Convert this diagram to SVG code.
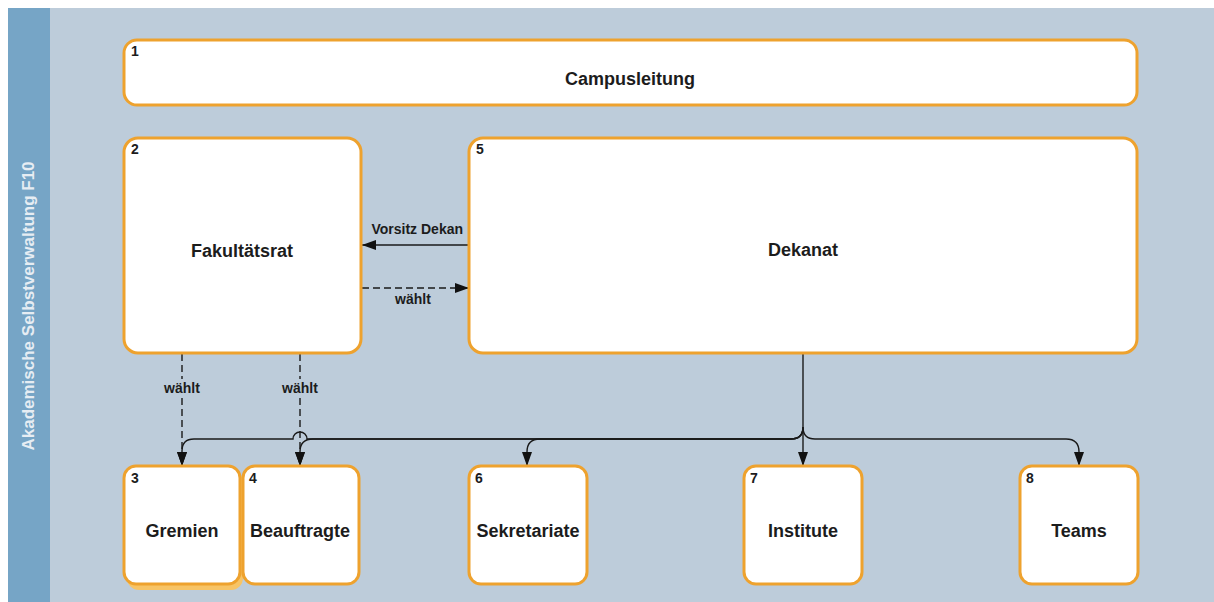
<svg xmlns="http://www.w3.org/2000/svg" width="1214" height="602" viewBox="0 0 1214 602">
  <defs>
    <style>
      .box { fill: #ffffff; stroke: #eea22e; stroke-width: 3; }
      .title { font-family: "Liberation Sans", Arial, sans-serif; font-weight: bold; font-size: 18px; fill: #1c1c1c; text-anchor: middle; }
      .num { font-family: "Liberation Sans", Arial, sans-serif; font-weight: bold; font-size: 14px; fill: #1c1c1c; }
      .lbl { font-family: "Liberation Sans", Arial, sans-serif; font-weight: bold; font-size: 14px; fill: #1c1c1c; }
      .solid { fill: none; stroke: #1a1a1a; stroke-width: 1.4; }
      .dash { fill: none; stroke: #1a1a1a; stroke-width: 1.4; stroke-dasharray: 7 4; }
    </style>
    <marker id="arrow" markerUnits="userSpaceOnUse" markerWidth="14" markerHeight="10" refX="14" refY="5" orient="auto">
      <path d="M0,0 L14,5 L0,10 z" fill="#111111"/>
    </marker>
  </defs>

  <!-- background -->
  <rect x="0" y="0" width="1214" height="602" fill="#ffffff"/>
  <rect x="8" y="8" width="1206" height="594" fill="#bdccda"/>
  <rect x="8" y="8" width="42" height="594" fill="#76a5c6"/>
  <text transform="translate(34,306) rotate(-90)" text-anchor="middle" font-family="'Liberation Sans', Arial, sans-serif" font-weight="bold" font-size="17" fill="#e6edf3">Akademische Selbstverwaltung F10</text>

  <!-- connectors -->
  <g id="connectors">
    <!-- Dekanat -> Fakultätsrat -->
    <line class="solid" x1="469" y1="245" x2="362" y2="245" marker-end="url(#arrow)"/>
    <!-- Fakultätsrat -> Dekanat -->
    <line class="dash" x1="362" y1="288" x2="469" y2="288" marker-end="url(#arrow)"/>
    <!-- Fakultätsrat -> Gremien / Beauftragte -->
    <line class="dash" x1="182" y1="354" x2="182" y2="466" marker-end="url(#arrow)"/>
    <line class="dash" x1="300" y1="354" x2="300" y2="466" marker-end="url(#arrow)"/>
    <!-- Dekanat trunk and branches -->
    <line class="solid" x1="803" y1="354" x2="803" y2="466" marker-end="url(#arrow)"/>
    <path class="solid" d="M803,427 C803,435 799,439 791,439 L307,439 A7,7 0 0 0 293,439 L194,439 Q182,439 182,451 L182,466" marker-end="url(#arrow)"/>
    <path class="solid" d="M803,427 C803,435 799,439 791,439 L313,439 Q300,439 300,452 L300,466" marker-end="url(#arrow)"/>
    <path class="solid" d="M803,427 C803,435 799,439 791,439 L540,439 Q527,439 527,452 L527,466" marker-end="url(#arrow)"/>
    <path class="solid" d="M803,427 C803,435 807,439 815,439 L1066,439 Q1079,439 1079,452 L1079,466" marker-end="url(#arrow)"/>
    <!-- labels -->
    <text class="lbl" x="463" y="234" text-anchor="end">Vorsitz Dekan</text>
    <text class="lbl" x="413" y="304" text-anchor="middle">wählt</text>
    <rect x="160" y="379" width="44" height="18" fill="#bdccda"/>
    <text class="lbl" x="182" y="393" text-anchor="middle">wählt</text>
    <rect x="278" y="379" width="44" height="18" fill="#bdccda"/>
    <text class="lbl" x="300" y="393" text-anchor="middle">wählt</text>
  </g>

  <!-- nodes -->
  <g id="node1">
    <rect class="box" x="124" y="40" width="1013" height="65" rx="13"/>
    <text class="num" x="131" y="56">1</text>
    <text class="title" x="630" y="85">Campusleitung</text>
  </g>
  <g id="node2">
    <rect class="box" x="124" y="138" width="237" height="215" rx="14"/>
    <text class="num" x="131" y="154">2</text>
    <text class="title" x="242" y="257">Fakultätsrat</text>
  </g>
  <g id="node5">
    <rect class="box" x="469" y="138" width="668" height="215" rx="14"/>
    <text class="num" x="476" y="154">5</text>
    <text class="title" x="803" y="256">Dekanat</text>
  </g>
  <g id="node3">
    <rect x="127" y="470" width="116" height="120" rx="12" fill="#f7c466"/>
    <rect class="box" x="124" y="466" width="116" height="118" rx="12"/>
    <text class="num" x="131" y="483">3</text>
    <text class="title" x="182" y="537">Gremien</text>
  </g>
  <g id="node4">
    <rect class="box" x="243" y="466" width="116" height="118" rx="12"/>
    <text class="num" x="249" y="483">4</text>
    <text class="title" x="300" y="537">Beauftragte</text>
  </g>
  <g id="node6">
    <rect class="box" x="469" y="466" width="118" height="118" rx="12"/>
    <text class="num" x="475" y="483">6</text>
    <text class="title" x="528" y="537">Sekretariate</text>
  </g>
  <g id="node7">
    <rect class="box" x="744" y="466" width="118" height="118" rx="12"/>
    <text class="num" x="750" y="483">7</text>
    <text class="title" x="803" y="537">Institute</text>
  </g>
  <g id="node8">
    <rect class="box" x="1020" y="466" width="118" height="118" rx="12"/>
    <text class="num" x="1026" y="483">8</text>
    <text class="title" x="1079" y="537">Teams</text>
  </g>
</svg>
